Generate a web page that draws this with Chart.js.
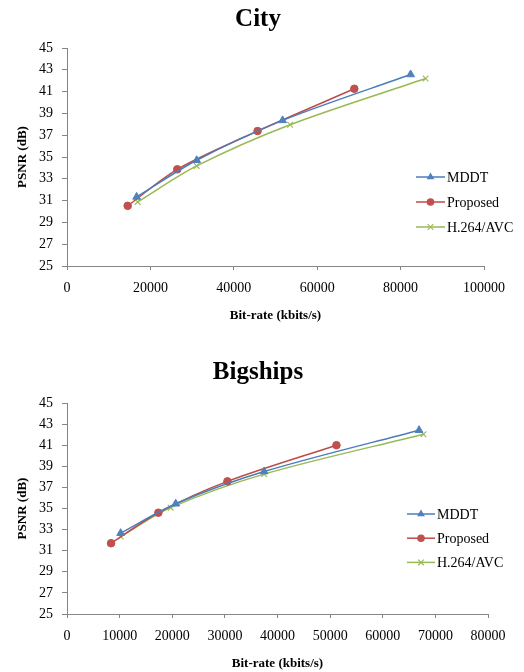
<!DOCTYPE html>
<html>
<head>
<meta charset="utf-8">
<script src="https://cdn.jsdelivr.net/npm/chart.js@4.4.1/dist/chart.umd.min.js"></script>
<style>
  html, body { margin: 0; padding: 0; background: #fff; }
  .box { position: absolute; left: 0; width: 524px; }
  #box_city { top: 0; height: 330px; }
  #box_ships { top: 330px; height: 342px; }
</style>
</head>
<body>
<div class="box" id="box_city"><canvas id="city_chart"></canvas></div>
<div class="box" id="box_ships"><canvas id="ships_chart"></canvas></div>
<script>
const series_names = ['MDDT', 'Proposed', 'H.264/AVC'];

// City
const city_mddt_rate = [16700, 31100, 51700, 82400];
const city_mddt_psnr = [31.34, 34.70, 38.36, 42.57];
const city_proposed_rate = [14550, 26450, 45700, 68900];
const city_proposed_psnr = [30.52, 33.87, 37.38, 41.26];
const city_avc_rate = [16950, 31100, 53500, 86000];
const city_avc_psnr = [30.88, 34.18, 37.96, 42.20];

// Bigships
const ships_mddt_rate = [10200, 20660, 37450, 66900];
const ships_mddt_psnr = [32.66, 35.45, 38.50, 42.42];
const ships_proposed_rate = [8370, 17360, 30480, 51200];
const ships_proposed_psnr = [31.71, 34.60, 37.57, 41.00];
const ships_avc_rate = [10200, 19700, 37450, 67740];
const ships_avc_psnr = [32.34, 35.08, 38.26, 42.04];

// axis ranges: min, max, step
const psnr_range = [25, 45, 2];
const city_rate_range = [0, 100000, 20000];
const ships_rate_range = [0, 80000, 10000];

const line_colors = ['#4A7EBB', '#BE4B48', '#98B954'];
const marker_colors = ['#4F81BD', '#C0504D', '#9BBB59'];
const marker_styles = ['triangle', 'circle', 'crossRot'];
const marker_sizes = [4.5, 3.8, 4];
const axis_color = '#868686';
const font_family = "'Liberation Serif', 'Times New Roman', serif";

const to_points = (xs, ys) => xs.map((x, i) => ({ x: x, y: ys[i] }));

const make_datasets = (series) => series.map(([xs, ys], i) => ({
  label: series_names[i],
  data: to_points(xs, ys),
  borderColor: line_colors[i],
  backgroundColor: marker_colors[i],
  borderWidth: 1.5,
  tension: 0.3,
  fill: false,
  pointStyle: marker_styles[i],
  pointRadius: marker_sizes[i],
  pointBackgroundColor: marker_colors[i],
  pointBorderColor: marker_colors[i],
  pointBorderWidth: i === 2 ? 1.2 : 1,
}));

const draw_marker = (ctx, style, x, y, r, color) => {
  ctx.fillStyle = color;
  ctx.strokeStyle = color;
  ctx.beginPath();
  if (style === 'triangle') {
    let a = 0;
    ctx.moveTo(x + Math.sin(a) * r, y - Math.cos(a) * r);
    a += Math.PI * 2 / 3;
    ctx.lineTo(x + Math.sin(a) * r, y - Math.cos(a) * r);
    a += Math.PI * 2 / 3;
    ctx.lineTo(x + Math.sin(a) * r, y - Math.cos(a) * r);
    ctx.closePath();
    ctx.fill();
  } else if (style === 'circle') {
    ctx.arc(x, y, r, 0, Math.PI * 2);
    ctx.fill();
  } else {
    const d = r * Math.SQRT1_2;
    ctx.lineWidth = 1.2;
    ctx.moveTo(x - d, y - d); ctx.lineTo(x + d, y + d);
    ctx.moveTo(x - d, y + d); ctx.lineTo(x + d, y - d);
    ctx.stroke();
  }
};

// legend drawn inside the plot, like the Excel original
const side_legend = {
  id: 'side_legend',
  afterDraw(chart, args, opts) {
    const ctx = chart.ctx;
    ctx.save();
    chart.data.datasets.forEach((ds, i) => {
      const y = opts.top + i * opts.gap;
      ctx.strokeStyle = ds.borderColor;
      ctx.lineWidth = 1.5;
      ctx.beginPath();
      ctx.moveTo(opts.left, y);
      ctx.lineTo(opts.left + opts.line, y);
      ctx.stroke();
      draw_marker(ctx, ds.pointStyle, opts.left + opts.line / 2, y, ds.pointRadius, ds.pointBackgroundColor);
      ctx.fillStyle = '#000';
      ctx.font = '14px ' + font_family;
      ctx.textAlign = 'left';
      ctx.textBaseline = 'middle';
      ctx.fillText(ds.label, opts.left + opts.line + 2, y + 1);
    });
    ctx.restore();
  }
};

const build_chart = (id, title, series, rate_range, lay) => {
  new Chart(id, {
    type: 'line',
    data: { datasets: make_datasets(series) },
    plugins: [side_legend],
    options: {
      responsive: true,
      maintainAspectRatio: false,
      animation: false,
      layout: { padding: { left: 0, right: 8, top: 0, bottom: 0 } },
      plugins: {
        legend: { display: false },
        tooltip: { enabled: false },
        title: {
          display: true,
          text: title,
          color: '#000',
          font: { family: font_family, size: 25, weight: 'bold' },
          padding: lay.title_pad,
        },
        side_legend: lay.legend,
      },
      scales: {
        x: {
          type: 'linear',
          min: rate_range[0],
          max: rate_range[1],
          afterFit: (scale) => {
            scale.height = lay.x_height;
            scale.paddingRight = lay.right_gap;
          },
          ticks: {
            stepSize: rate_range[2],
            color: '#000',
            font: { family: font_family, size: 14 },
            padding: 10,
            maxRotation: 0,
            autoSkip: false,
            callback: (v) => String(v),
          },
          grid: { drawOnChartArea: false, drawTicks: true, tickLength: 4, color: axis_color },
          border: { display: true, color: axis_color, width: 1 },
          title: {
            display: true,
            text: 'Bit-rate (kbits/s)',
            color: '#000',
            font: { family: font_family, size: 13, weight: 'bold' },
            padding: { top: 0, bottom: lay.x_title_pad },
          },
        },
        y: {
          type: 'linear',
          min: psnr_range[0],
          max: psnr_range[1],
          afterFit: (scale) => { scale.width = 67; },
          ticks: {
            stepSize: psnr_range[2],
            color: '#000',
            font: { family: font_family, size: 14 },
            padding: 9,
          },
          grid: { drawOnChartArea: false, drawTicks: true, tickLength: 5, color: axis_color },
          border: { display: true, color: axis_color, width: 1 },
          title: {
            display: true,
            text: 'PSNR (dB)',
            color: '#000',
            font: { family: font_family, size: 13, weight: 'bold' },
            padding: { top: 15, bottom: 0 },
          },
        },
      },
    },
  });
};

build_chart('city_chart', 'City', [
  [city_mddt_rate, city_mddt_psnr],
  [city_proposed_rate, city_proposed_psnr],
  [city_avc_rate, city_avc_psnr],
], city_rate_range, {
  title_pad: { top: 5, bottom: 13 },
  x_height: 64,
  x_title_pad: 7,
  right_gap: 40,
  legend: { left: 416, top: 177, gap: 25, line: 29 },
});

build_chart('ships_chart', 'Bigships', [
  [ships_mddt_rate, ships_mddt_psnr],
  [ships_proposed_rate, ships_proposed_psnr],
  [ships_avc_rate, ships_avc_psnr],
], ships_rate_range, {
  title_pad: { top: 28, bottom: 15 },
  x_height: 58,
  x_title_pad: 1,
  right_gap: 36,
  legend: { left: 407, top: 184, gap: 24.2, line: 28 },
});
</script>
</body>
</html>
